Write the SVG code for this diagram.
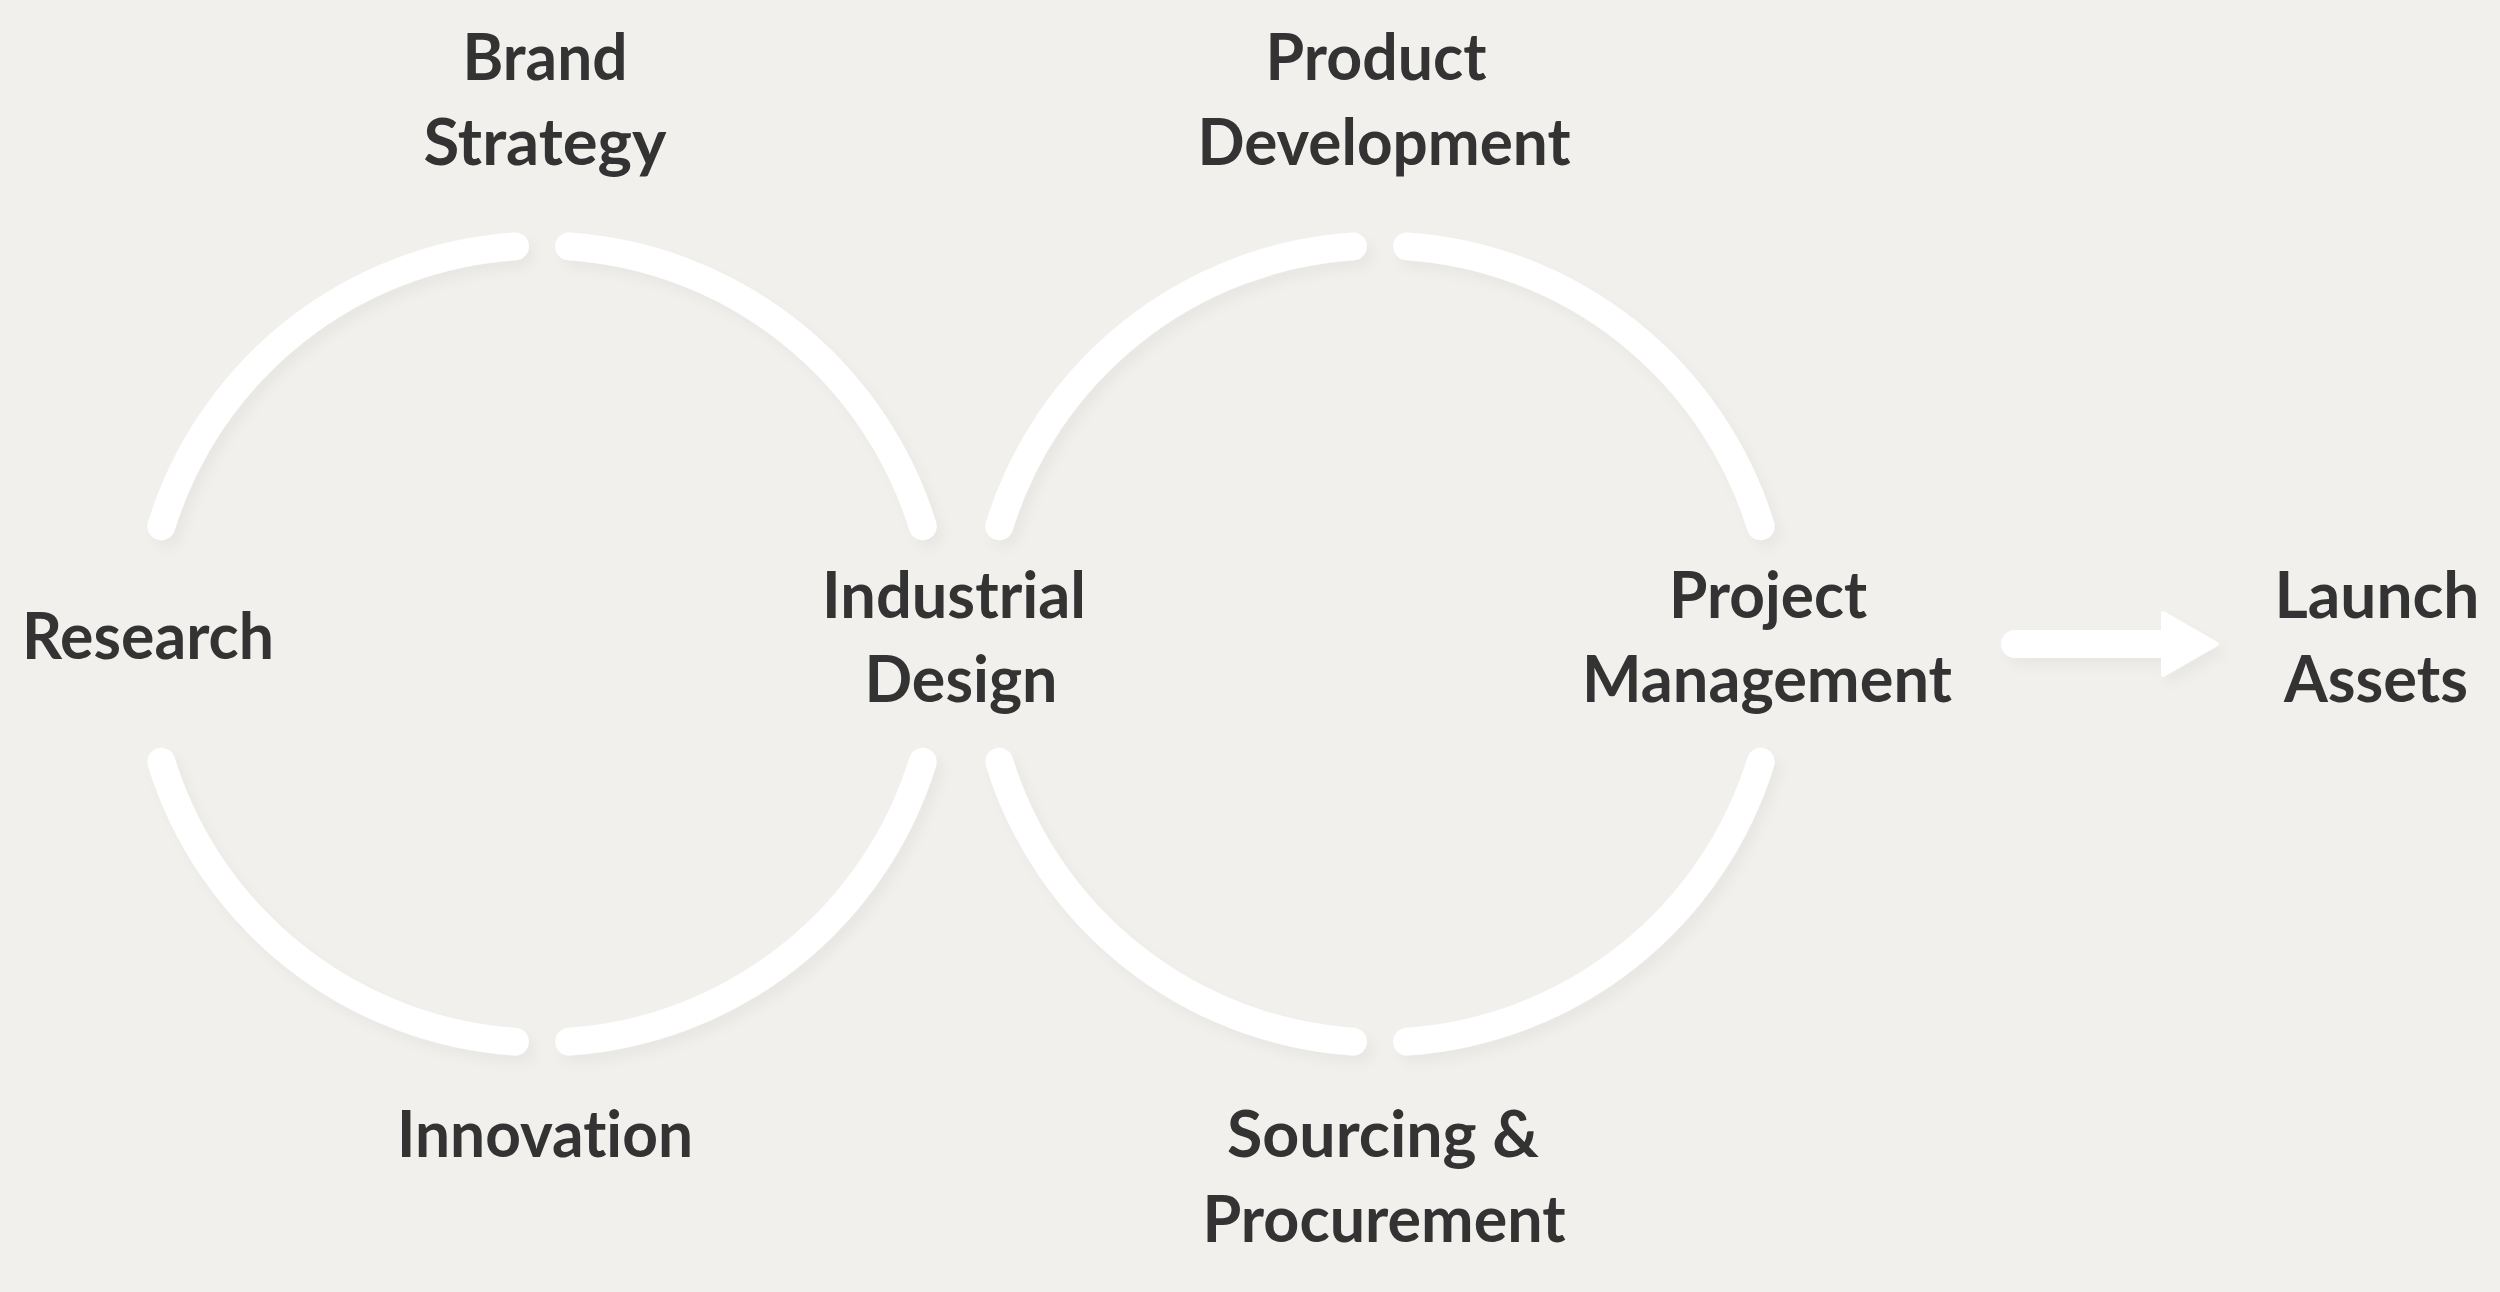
<svg xmlns="http://www.w3.org/2000/svg" width="2500" height="1292" viewBox="0 0 2500 1292">
<style>
.bg{fill:#f1f0ec}
.arc{fill:none;stroke:#ffffff;stroke-width:28;stroke-linecap:round}
.lbl{font-family:Lato,"Noto Sans","Liberation Sans",sans-serif;font-weight:700;font-size:65px;fill:#333333;text-anchor:middle;font-variant-ligatures:none}
</style>
<defs>
<filter id="sh" x="-10%" y="-10%" width="120%" height="120%">
<feDropShadow dx="6" dy="8" stdDeviation="6" flood-color="#000000" flood-opacity="0.035"/>
</filter>
</defs>
<rect class="bg" x="0" y="0" width="2500" height="1292"/>
<g id="connectors" filter="url(#sh)">
<path class="arc" d="M161.3,526.2 A398.5,398.5 0 0 1 514.9,246.4"/>
<path class="arc" d="M569.1,246.4 A398.5,398.5 0 0 1 922.7,526.2"/>
<path class="arc" d="M922.7,761.8 A398.5,398.5 0 0 1 569.1,1041.6"/>
<path class="arc" d="M514.9,1041.6 A398.5,398.5 0 0 1 161.3,761.8"/>
<path class="arc" d="M999.3,526.2 A398.5,398.5 0 0 1 1352.9,246.4"/>
<path class="arc" d="M1407.1,246.4 A398.5,398.5 0 0 1 1760.7,526.2"/>
<path class="arc" d="M1760.7,761.8 A398.5,398.5 0 0 1 1407.1,1041.6"/>
<path class="arc" d="M1352.9,1041.6 A398.5,398.5 0 0 1 999.3,761.8"/>
<path class="arc" d="M2015,644 L2165,644"/>
<polygon points="2163,613 2217,644 2163,675" fill="#ffffff" stroke="#ffffff" stroke-width="4" stroke-linejoin="round"/>
</g>
<g id="brand-strategy"><text class="lbl" x="545" y="80" textLength="165" lengthAdjust="spacingAndGlyphs">Brand</text><text class="lbl" x="545" y="165" textLength="243" lengthAdjust="spacingAndGlyphs">Strategy</text></g>
<g id="research"><text class="lbl" x="148" y="659" textLength="252" lengthAdjust="spacingAndGlyphs">Research</text></g>
<g id="innovation"><text class="lbl" x="545" y="1157" textLength="296" lengthAdjust="spacingAndGlyphs">Innovation</text></g>
<g id="industrial-design"><text class="lbl" x="954" y="618" textLength="264" lengthAdjust="spacingAndGlyphs">Industrial</text><text class="lbl" x="961" y="702" textLength="193" lengthAdjust="spacingAndGlyphs">Design</text></g>
<g id="product-development"><text class="lbl" x="1376" y="80" textLength="221" lengthAdjust="spacingAndGlyphs">Product</text><text class="lbl" x="1384" y="165" textLength="373" lengthAdjust="spacingAndGlyphs">Development</text></g>
<g id="sourcing-procurement"><text class="lbl" x="1383" y="1157" textLength="312" lengthAdjust="spacingAndGlyphs">Sourcing &amp;</text><text class="lbl" x="1384" y="1242" textLength="363" lengthAdjust="spacingAndGlyphs">Procurement</text></g>
<g id="project-management"><text class="lbl" x="1768" y="618" textLength="198" lengthAdjust="spacingAndGlyphs">Project</text><text class="lbl" x="1767" y="702" textLength="370" lengthAdjust="spacingAndGlyphs">Management</text></g>
<g id="launch-assets"><text class="lbl" x="2377" y="618" textLength="205" lengthAdjust="spacingAndGlyphs">Launch</text><text class="lbl" x="2376" y="702" textLength="184" lengthAdjust="spacingAndGlyphs">Assets</text></g>
</svg>
